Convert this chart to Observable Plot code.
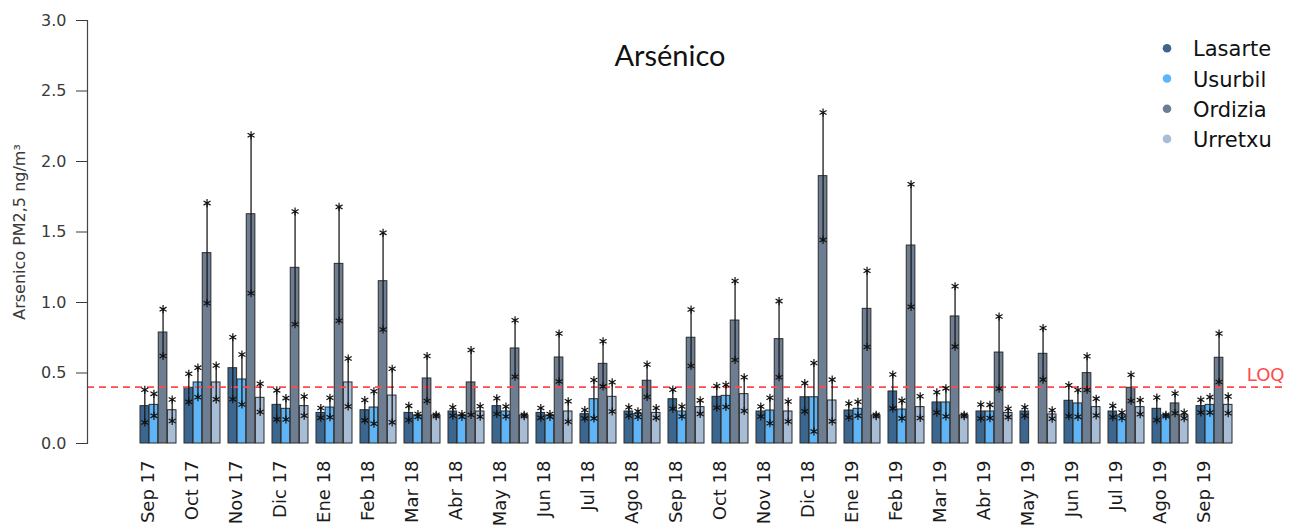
<!DOCTYPE html>
<html>
<head>
<meta charset="utf-8">
<script src="https://cdn.jsdelivr.net/npm/d3@7"></script>
<script src="https://cdn.jsdelivr.net/npm/@observablehq/plot@0.6"></script>
<style>
  body { margin: 0; background: #fff; }
  #chart { width: 1297px; height: 529px; }
</style>
</head>
<body>
<div id="chart"></div>
<script>
// Monthly arsenic (PM2.5) averages per station, with standard deviations
const months = ["Sep 17","Oct 17","Nov 17","Dic 17","Ene 18","Feb 18","Mar 18","Abr 18","May 18","Jun 18","Jul 18","Ago 18","Sep 18","Oct 18","Nov 18","Dic 18","Ene 19","Feb 19","Mar 19","Abr 19","May 19","Jun 19","Jul 19","Ago 19","Sep 19"];
const stations = ["Lasarte", "Usurbil", "Ordizia", "Urretxu"];
const stationColors = ["#3b6690", "#5db4f7", "#6e7e92", "#a7bcd5"];

const lasarteMean = [0.265, 0.395, 0.534, 0.274, 0.217, 0.236, 0.217, 0.227, 0.265, 0.217, 0.208, 0.227, 0.314, 0.331, 0.227, 0.328, 0.234, 0.369, 0.291, 0.227, 0.227, 0.303, 0.227, 0.246, 0.265];
const lasarteSd   = [0.116, 0.100, 0.220, 0.103, 0.035, 0.072, 0.050, 0.030, 0.056, 0.035, 0.030, 0.030, 0.068, 0.077, 0.035, 0.100, 0.050, 0.120, 0.072, 0.050, 0.030, 0.110, 0.040, 0.080, 0.045];

const usurbilMean = [0.274, 0.433, 0.454, 0.246, 0.255, 0.255, 0.199, 0.199, 0.227, 0.199, 0.314, 0.208, 0.227, 0.338, 0.234, 0.328, 0.246, 0.241, 0.291, 0.227, null, 0.284, 0.199, 0.199, 0.274];
const usurbilSd   = [0.078, 0.105, 0.177, 0.076, 0.069, 0.115, 0.010, 0.010, 0.036, 0.010, 0.136, 0.020, 0.035, 0.079, 0.090, 0.243, 0.050, 0.063, 0.100, 0.047, null, 0.095, 0.020, 0.005, 0.055];

const ordiziaMean = [0.787, 1.350, 1.626, 1.246, 1.274, 1.151, 0.461, 0.433, 0.674, 0.610, 0.565, 0.445, 0.750, 0.872, 0.740, 1.896, 0.955, 1.404, 0.901, 0.645, 0.636, 0.499, 0.395, 0.284, 0.608];
const ordiziaSd   = [0.166, 0.355, 0.560, 0.400, 0.404, 0.343, 0.160, 0.230, 0.200, 0.170, 0.160, 0.115, 0.200, 0.280, 0.270, 0.452, 0.270, 0.435, 0.214, 0.256, 0.183, 0.120, 0.093, 0.070, 0.172];

const urretxuMean = [0.236, 0.433, 0.324, 0.265, 0.433, 0.340, 0.199, 0.227, 0.199, 0.227, 0.331, 0.217, 0.258, 0.350, 0.227, 0.305, 0.199, 0.258, 0.199, 0.217, 0.206, 0.258, 0.258, 0.199, 0.274];
const urretxuSd   = [0.076, 0.120, 0.100, 0.068, 0.170, 0.190, 0.005, 0.037, 0.005, 0.073, 0.104, 0.035, 0.048, 0.120, 0.071, 0.148, 0.005, 0.077, 0.005, 0.030, 0.030, 0.060, 0.050, 0.020, 0.060];

const yTicks = [0, 0.5, 1, 1.5, 2, 2.5, 3];
const loq = 0.4;

// Layout
const width = 1297, height = 529;
const margin = {top: 20, right: 13, bottom: 86, left: 87};
const xScaleOptions = {
  type: "band",
  domain: months,
  range: [margin.left, width - margin.right],
  paddingInner: 0.186,
  paddingOuter: 0.944,
  align: 0.5
};

// Width of one month group, split evenly between the four stations
const bw = Plot.scale({x: xScaleOptions}).bandwidth;
const q = bw / stations.length;

const series = [
  {station: "Lasarte", mean: lasarteMean, sd: lasarteSd},
  {station: "Usurbil", mean: usurbilMean, sd: usurbilSd},
  {station: "Ordizia", mean: ordiziaMean, sd: ordiziaSd},
  {station: "Urretxu", mean: urretxuMean, sd: urretxuSd}
];

const bars = [];
const errs = [];
series.forEach((s, k) => {
  const rows = months
    .map((month, i) => ({month, station: s.station, mean: s.mean[i], sd: s.sd[i]}))
    .filter((d) => d.mean != null);
  const ends = rows.flatMap((d) => [
    {month: d.month, v: d.mean + d.sd},
    {month: d.month, v: d.mean - d.sd}
  ]);
  const dx = (k + 0.5) * q - bw / 2;
  bars.push(Plot.barY(rows, {
    x: "month", y: "mean", fill: "station",
    stroke: "#2b2b2b", strokeWidth: 1,
    insetLeft: k * q, insetRight: (stations.length - 1 - k) * q
  }));
  errs.push(
    Plot.ruleX(rows, {
      x: "month", y1: (d) => d.mean - d.sd, y2: (d) => d.mean + d.sd,
      dx, stroke: "#1a1a1a", strokeWidth: 1.3
    }),
    Plot.dot(ends, {
      x: "month", y: "v", dx, symbol: "asterisk", r: 3.8,
      stroke: "#111", strokeWidth: 1.2
    })
  );
});

const chart = Plot.plot({
  width, height,
  marginTop: margin.top, marginRight: margin.right,
  marginBottom: margin.bottom, marginLeft: margin.left,
  style: {fontFamily: "DejaVu Sans", background: "#fff", overflow: "visible"},
  x: xScaleOptions,
  y: {domain: [0, 3]},
  color: {domain: stations, range: stationColors},
  marks: [
    ...bars,
    Plot.ruleY([loq], {stroke: "#ff4b4b", strokeWidth: 1.6, strokeDasharray: "7,5"}),
    Plot.text(["LOQ"], {
      frameAnchor: "right", y: [loq], dy: -12, textAnchor: "end",
      fill: "#ff4b4b", fontSize: 18
    }),
    ...errs,
    Plot.frame({anchor: "left", stroke: "#444", strokeWidth: 1.2}),
    Plot.axisY({
      ticks: yTicks, tickFormat: d3.format(".1f"),
      tickSize: 11, tickPadding: 10, fontSize: 16, color: "#3a3a3a",
      label: "Arsenico PM2,5 ng/m³", labelArrow: "none",
      labelAnchor: "center", labelOffset: 74
    }),
    Plot.axisX({
      tickSize: 0, tickPadding: 17, tickRotate: -90, dx: -10,
      fontSize: 18, color: "#1a1a1a", label: null
    })
  ]
});

// Title and station legend drawn inside the same SVG
const svg = d3.select(chart);
svg.append("text")
  .attr("x", 670).attr("y", 66)
  .attr("text-anchor", "middle")
  .attr("font-family", "Lato")
  .attr("font-size", 29)
  .attr("fill", "#111")
  .text("Arsénico");

const legend = svg.append("g")
  .attr("font-family", "DejaVu Sans")
  .attr("font-size", 21)
  .attr("text-anchor", "start");
stations.forEach((name, i) => {
  const cy = 48.3 + i * 30.2;
  legend.append("circle").attr("cx", 1167).attr("cy", cy).attr("r", 4.3).attr("fill", stationColors[i]);
  legend.append("text").attr("x", 1193).attr("y", cy + 8).attr("fill", "#111").text(name);
});

document.getElementById("chart").append(chart);
</script>
</body>
</html>
